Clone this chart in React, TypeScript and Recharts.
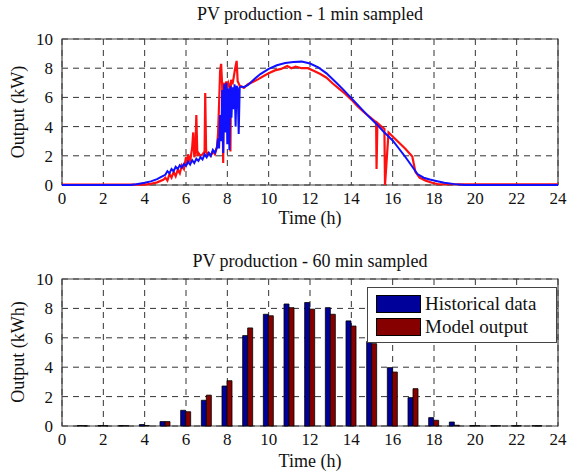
import React from "react";
import {
  LineChart,
  Line,
  BarChart,
  Bar,
  XAxis,
  YAxis,
  CartesianGrid,
  ReferenceArea,
  Legend,
} from "recharts";

const histTimes = [
  0, 3.3, 3.6, 4.0, 4.3, 4.6, 4.8, 5.0, 5.1, 5.2, 5.3, 5.4, 5.5, 5.6, 5.7, 5.8, 5.9, 6.0, 6.1, 6.2, 6.3,
  6.4, 6.5, 6.6, 6.7, 6.8, 6.9, 7.0, 7.1, 7.2, 7.3, 7.4, 7.5, 7.55, 7.6, 7.65, 7.7, 7.75, 7.8, 7.85,
  7.9, 7.95, 8.0, 8.05, 8.1, 8.15, 8.2, 8.25, 8.3, 8.35, 8.4, 8.45, 8.5, 8.55, 8.6, 8.7, 8.8, 9.0,
  9.3, 9.6, 10.0, 10.4, 10.8, 11.2, 11.6, 12.0, 12.4, 12.8, 13.2, 13.6, 14.0, 14.4, 14.8, 15.2, 15.6,
  16.0, 16.3, 16.6, 16.9, 17.2, 17.5, 17.8, 18.1, 18.5, 19.0, 19.5, 24,
];
const histValues = [
  0, 0, 0.05, 0.15, 0.25, 0.4, 0.55, 0.7, 0.95, 0.8, 1.1, 0.95, 1.25, 1.1, 1.35, 1.2, 1.45, 1.3, 1.6,
  1.4, 1.7, 1.5, 1.8, 1.65, 1.9, 1.75, 2.1, 1.9, 2.2, 2.0, 2.4, 2.2, 2.6, 3.2, 2.5, 4.8, 3.0, 6.5, 2.2,
  6.9, 3.6, 7.0, 2.8, 6.6, 2.4, 6.8, 4.6, 6.7, 5.2, 6.9, 4.0, 6.8, 6.6, 3.5, 6.7, 6.75, 6.7, 6.85,
  7.25, 7.6, 7.95, 8.2, 8.35, 8.42, 8.45, 8.32, 8.05, 7.65, 7.1, 6.55, 5.95, 5.35, 4.75, 4.2, 3.6,
  3.05, 2.5, 1.95, 1.35, 0.75, 0.5, 0.38, 0.28, 0.15, 0.06, 0, 0,
];

const modelTimes = [
  0, 4.0, 4.3, 4.6, 4.9, 5.0, 5.1, 5.2, 5.3, 5.4, 5.5, 5.6, 5.7, 5.8, 5.9, 6.0, 6.05, 6.1, 6.2, 6.3,
  6.35, 6.4, 6.45, 6.5, 6.55, 6.6, 6.7, 6.8, 6.9, 6.93, 6.97, 7.0, 7.1, 7.2, 7.3, 7.4, 7.5, 7.55, 7.6,
  7.65, 7.7, 7.75, 7.8, 7.82, 7.9, 7.95, 8.0, 8.05, 8.1, 8.15, 8.18, 8.25, 8.3, 8.38, 8.45, 8.5, 8.6,
  8.8, 9.0, 9.3, 9.5, 9.8, 10.0, 10.3, 10.6, 10.9, 11.1, 11.3, 11.6, 11.9, 12.2, 12.5, 12.8, 13.1,
  13.4, 13.7, 14.0, 14.3, 14.6, 14.9, 15.2, 15.22, 15.26, 15.5, 15.6, 15.63, 15.8, 16.2, 16.6,
  16.95, 17.1, 17.3, 17.6, 17.9, 18.2, 24,
];
const modelValues = [
  0.03, 0.03, 0.08, 0.18, 0.35, 0.5, 0.3, 0.75, 0.5, 0.9, 0.6, 1.05, 0.8, 1.35, 1.1, 1.9, 1.4, 2.1,
  1.6, 2.6, 3.6, 1.9, 2.3, 4.8, 2.0, 2.2, 2.0, 2.1, 2.3, 6.3, 2.5, 2.1, 2.2, 2.0, 2.3, 2.1, 2.6, 3.5,
  5.5, 7.8, 8.3, 6.8, 1.5, 7.0, 6.6, 7.1, 6.7, 7.0, 6.8, 2.3, 7.2, 6.9, 7.3, 8.0, 8.5, 7.1, 6.8,
  6.65, 6.9, 7.1, 7.25, 7.5, 7.65, 7.85, 7.95, 8.15, 8.0, 8.1, 8.0, 8.0, 7.8, 7.6, 7.35, 6.95,
  6.6, 6.25, 5.85, 5.4, 5.0, 4.65, 4.3, 1.1, 4.25, 3.95, 3.85, 0, 3.6, 3.05, 2.5, 1.95, 0.9, 0.5,
  0.3, 0.15, 0.05, 0.05,
];

// 60-min sampled PV production (kWh)
const hours = [1, 2, 3, 4, 5, 6, 7, 8, 9, 10, 11, 12, 13, 14, 15, 16, 17, 18, 19, 20, 21, 22, 23];
const histHourly = [
  0.03, 0.03, 0.03, 0.1, 0.3, 1.07, 1.75, 2.72, 6.15, 7.6, 8.3, 8.4, 8.05, 7.15, 5.75, 3.97, 1.93,
  0.57, 0.27, 0.03, 0.02, 0.02, 0.02,
];
const modelHourly = [
  0.02, 0.02, 0.02, 0.03, 0.3, 0.97, 2.1, 3.08, 6.67, 7.5, 8.05, 7.95, 7.6, 6.8, 5.6, 3.67, 2.54,
  0.39, 0.05, 0.02, 0.02, 0.02, 0.02,
];

const xTicks = [0, 2, 4, 6, 8, 10, 12, 14, 16, 18, 20, 22, 24];
const yTicks = [0, 2, 4, 6, 8, 10];

const FONT = '"Liberation Serif", "Times New Roman", serif';
const tickStyle = { fill: "#111", fontSize: 17, fontFamily: FONT };

const histLine = histTimes.map((t, i) => ({ t, v: histValues[i] }));
const modelLine = modelTimes.map((t, i) => ({ t, v: modelValues[i] }));
const hourly = hours.map((h, i) => ({ h, hist: histHourly[i], model: modelHourly[i] }));

const text = (s: React.CSSProperties): React.CSSProperties => ({
  position: "absolute",
  fontFamily: FONT,
  color: "#111",
  whiteSpace: "nowrap",
  lineHeight: 1,
  ...s,
});

const LegendBox = () => (
  <div
    style={{
      width: 190,
      height: 56,
      background: "#fff",
      border: "1px solid #444",
      boxSizing: "border-box",
      fontFamily: FONT,
      fontSize: 19,
      color: "#111",
      padding: "5px 0 0 8px",
    }}
  >
    {[
      { c: "#00009a", l: "Historical data" },
      { c: "#860000", l: "Model output" },
    ].map((it) => (
      <div key={it.l} style={{ display: "flex", alignItems: "center", height: 22, marginBottom: 1 }}>
        <div style={{ width: 45, height: 18, background: it.c, border: "1px solid #000", boxSizing: "border-box" }} />
        <span style={{ marginLeft: 4 }}>{it.l}</span>
      </div>
    ))}
  </div>
);

export default function App() {
  return (
    <div style={{ position: "absolute", left: 0, top: 0, width: 570, height: 471, background: "#fff", overflow: "hidden" }}>
      <div style={text({ left: 0, width: 620, top: 5, fontSize: 18, textAlign: "center" })}>
        PV production - 1 min sampled
      </div>
      <div style={text({ left: 0, width: 620, top: 209, fontSize: 18, textAlign: "center" })}>Time (h)</div>
      <div
        style={text({
          left: 18,
          top: 112,
          fontSize: 18,
          transform: "translate(-50%, -50%) rotate(-90deg)",
        })}
      >
        Output (kW)
      </div>

      <div style={{ position: "absolute", left: 0, top: 0 }}>
        <LineChart width={570} height={240} margin={{ top: 39, right: 12, bottom: 25, left: 0 }}>
          <CartesianGrid stroke="#333" strokeDasharray="6 5" horizontalValues={yTicks} verticalValues={xTicks} />
          <XAxis
            type="number"
            dataKey="t"
            domain={[0, 24]}
            ticks={xTicks}
            interval={0}
            allowDataOverflow
            axisLine={false}
            tickLine={false}
            tickSize={0}
            tickMargin={7}
            tick={tickStyle}
            height={30}
          />
          <YAxis
            type="number"
            domain={[0, 10]}
            ticks={yTicks}
            interval={0}
            axisLine={false}
            tickLine={false}
            tickSize={0}
            tickMargin={9}
            tick={tickStyle}
            width={62}
          />
          <Line data={modelLine} dataKey="v" type="linear" stroke="#ff1010" strokeWidth={2.2} dot={false} isAnimationActive={false} />
          <Line data={histLine} dataKey="v" type="linear" stroke="#1010ff" strokeWidth={2} dot={false} isAnimationActive={false} />
          <ReferenceArea x1={0} x2={24} y1={0} y2={10} fill="none" stroke="#444" strokeWidth={1.2} ifOverflow="visible" />
        </LineChart>
      </div>

      <div style={text({ left: 0, width: 620, top: 252, fontSize: 18, textAlign: "center" })}>
        PV production - 60 min sampled
      </div>
      <div style={text({ left: 0, width: 620, top: 452, fontSize: 18, textAlign: "center" })}>Time (h)</div>
      <div
        style={text({
          left: 18,
          top: 352,
          fontSize: 18,
          transform: "translate(-50%, -50%) rotate(-90deg)",
        })}
      >
        Output (kWh)
      </div>

      <div style={{ position: "absolute", left: 0, top: 240 }}>
        <BarChart
          width={570}
          height={231}
          data={hourly}
          margin={{ top: 39, right: 12, bottom: 15, left: 0 }}
          barGap={0}
        >
          <CartesianGrid stroke="#333" strokeDasharray="6 5" horizontalValues={yTicks} verticalValues={xTicks} />
          <XAxis
            type="number"
            dataKey="h"
            domain={[0, 24]}
            ticks={xTicks}
            interval={0}
            axisLine={false}
            tickLine={false}
            tickSize={0}
            tickMargin={7}
            tick={tickStyle}
            height={30}
          />
          <YAxis
            type="number"
            domain={[0, 10]}
            ticks={yTicks}
            interval={0}
            axisLine={false}
            tickLine={false}
            tickSize={0}
            tickMargin={9}
            tick={tickStyle}
            width={62}
          />
          <Bar dataKey="hist" fill="#00009a" stroke="#000" strokeWidth={0.8} barSize={5} isAnimationActive={false} />
          <Bar dataKey="model" fill="#860000" stroke="#000" strokeWidth={0.8} barSize={5} isAnimationActive={false} />
          <ReferenceArea x1={0} x2={24} y1={0} y2={10} fill="none" stroke="#444" strokeWidth={1.2} ifOverflow="visible" />
          <Legend
            layout="horizontal"
            verticalAlign="middle"
            align="center"
            content={() => <LegendBox />}
            wrapperStyle={{ position: "absolute", left: 367, top: 47, width: 190 }}
          />
        </BarChart>
      </div>
    </div>
  );
}
